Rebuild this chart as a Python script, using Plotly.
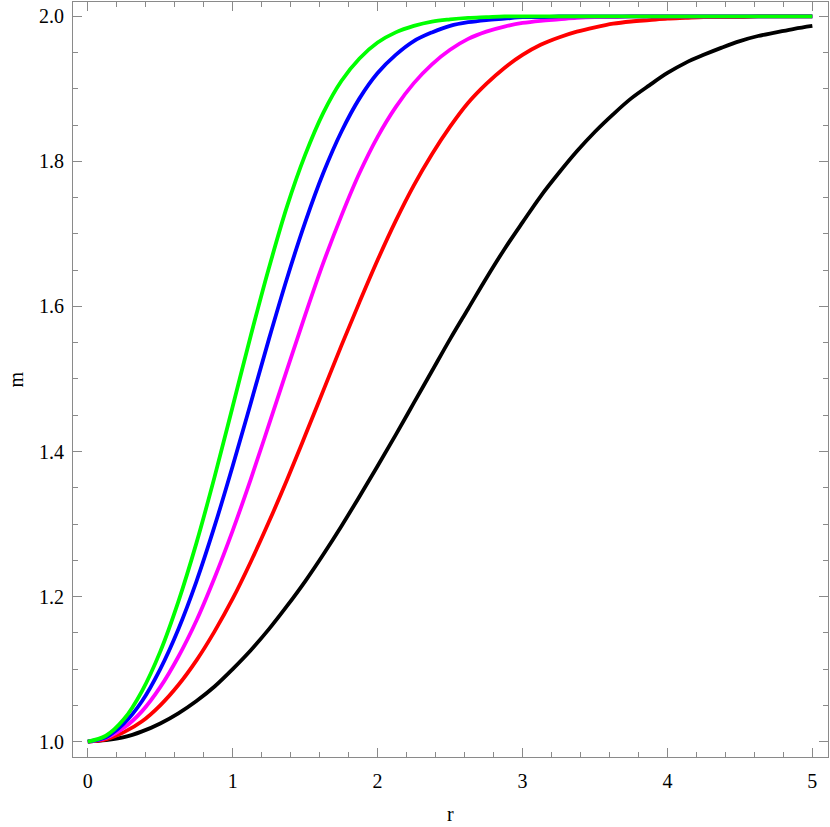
import plotly.graph_objects as go

r_values = [0, 0.125, 0.25, 0.375, 0.5, 0.625, 0.75, 0.875, 1.0, 1.125, 1.25, 1.375,
            1.5, 1.625, 1.75, 1.875, 2.0, 2.125, 2.25, 2.375, 2.5, 2.625, 2.75, 2.875,
            3.0, 3.125, 3.25, 3.375, 3.5, 3.625, 3.75, 3.875, 4.0, 4.125, 4.25, 4.375,
            4.5, 4.625, 4.75, 4.875, 5.0]

m_black = [1.000, 1.002, 1.006, 1.014, 1.025, 1.039, 1.056, 1.076, 1.100, 1.126, 1.155,
           1.187, 1.221, 1.258, 1.297, 1.338, 1.380, 1.423, 1.467, 1.511, 1.555, 1.597,
           1.639, 1.679, 1.716, 1.752, 1.784, 1.814, 1.841, 1.865, 1.887, 1.905, 1.922,
           1.936, 1.947, 1.957, 1.966, 1.973, 1.978, 1.983, 1.987]
m_red = [1.000, 1.003, 1.013, 1.028, 1.050, 1.078, 1.112, 1.152, 1.197, 1.248, 1.303,
         1.361, 1.422, 1.484, 1.546, 1.606, 1.664, 1.718, 1.767, 1.810, 1.848, 1.881,
         1.907, 1.929, 1.947, 1.961, 1.971, 1.979, 1.985, 1.990, 1.993, 1.995, 1.997,
         1.998, 1.999, 1.999, 1.999, 2.000, 2.000, 2.000, 2.000]
m_magenta = [1.000, 1.005, 1.019, 1.042, 1.075, 1.117, 1.167, 1.226, 1.291, 1.362, 1.437,
             1.513, 1.588, 1.660, 1.725, 1.784, 1.834, 1.875, 1.908, 1.934, 1.954, 1.969,
             1.979, 1.986, 1.991, 1.994, 1.996, 1.998, 1.999, 1.999, 2.000, 2.000, 2.000,
             2.000, 2.000, 2.000, 2.000, 2.000, 2.000, 2.000, 2.000]
m_blue = [1.000, 1.006, 1.025, 1.056, 1.100, 1.155, 1.221, 1.297, 1.380, 1.467, 1.555,
          1.639, 1.716, 1.784, 1.841, 1.887, 1.922, 1.947, 1.966, 1.978, 1.987, 1.992,
          1.995, 1.997, 1.999, 1.999, 2.000, 2.000, 2.000, 2.000, 2.000, 2.000, 2.000,
          2.000, 2.000, 2.000, 2.000, 2.000, 2.000, 2.000, 2.000]
m_green = [1.000, 1.008, 1.031, 1.070, 1.124, 1.193, 1.274, 1.365, 1.462, 1.560, 1.653,
           1.738, 1.809, 1.867, 1.911, 1.942, 1.964, 1.978, 1.987, 1.993, 1.996, 1.998,
           1.999, 2.000, 2.000, 2.000, 2.000, 2.000, 2.000, 2.000, 2.000, 2.000, 2.000,
           2.000, 2.000, 2.000, 2.000, 2.000, 2.000, 2.000, 2.000]

x_ticks = [0, 1, 2, 3, 4, 5]
y_ticks = [1.0, 1.2, 1.4, 1.6, 1.8, 2.0]
y_tick_labels = ["1.0", "1.2", "1.4", "1.6", "1.8", "2.0"]

series = [
    ("black", m_black, "#000000"),
    ("red", m_red, "#FF0000"),
    ("magenta", m_magenta, "#FF00FF"),
    ("blue", m_blue, "#0000FF"),
    ("green", m_green, "#00FF00"),
]

fig = go.Figure()
for name, vals, col in series:
    fig.add_trace(go.Scatter(
        x=r_values, y=vals, mode="lines", name=name,
        line=dict(color=col, width=3.8, shape="spline", smoothing=1.0),
        showlegend=False,
    ))

font_family = "Liberation Serif, Times New Roman, serif"
frame_col = "#8a8a8a"

fig.update_layout(
    width=830, height=827,
    margin=dict(l=73, r=2, t=2, b=70),
    paper_bgcolor="white", plot_bgcolor="white",
    font=dict(family=font_family, size=20, color="black"),
    xaxis=dict(
        range=[-0.102, 5.108], tickvals=x_ticks, ticktext=[str(v) for v in x_ticks],
        showgrid=False, zeroline=False, automargin=False,
        showline=True, linecolor=frame_col, linewidth=1, mirror="allticks",
        ticks="inside", ticklen=9, tickcolor=frame_col, tickwidth=1,
        minor=dict(dtick=0.2, tick0=0, ticks="inside", ticklen=5, tickcolor=frame_col, showgrid=False),
        ticklabelstandoff=6,
        tickfont=dict(family=font_family, size=20, color="black"),
    ),
    yaxis=dict(
        range=[0.9787, 2.0199], tickvals=y_ticks, ticktext=y_tick_labels,
        showgrid=False, zeroline=False, automargin=False,
        showline=True, linecolor=frame_col, linewidth=1, mirror="allticks",
        ticks="inside", ticklen=9, tickcolor=frame_col, tickwidth=1,
        minor=dict(dtick=0.05, tick0=1.0, ticks="inside", ticklen=5, tickcolor=frame_col, showgrid=False),
        ticklabelstandoff=4,
        tickfont=dict(family=font_family, size=20, color="black"),
    ),
    annotations=[
        dict(text="m", xref="paper", yref="paper", x=0, y=0.5, xanchor="center", yanchor="middle",
             xshift=-58, textangle=-90, showarrow=False,
             font=dict(family=font_family, size=20, color="black")),
        dict(text="r", xref="paper", yref="paper", x=0.5, y=0, xanchor="center", yanchor="middle",
             yshift=-57, showarrow=False,
             font=dict(family=font_family, size=20, color="black")),
    ],
)

fig.write_html("out.html",
               config={"displayModeBar": False},
               post_script="document.body.style.margin='0';document.body.style.padding='0';")
